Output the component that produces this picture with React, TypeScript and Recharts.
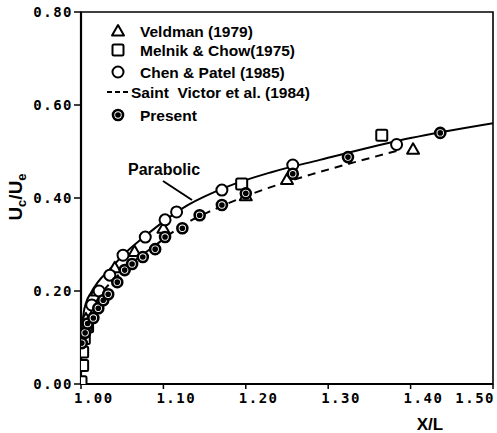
import React from 'react';
import { ComposedChart, Line, Scatter, XAxis, YAxis, ReferenceArea, Customized } from 'recharts';

const xTicks = [1.0, 1.1, 1.2, 1.3, 1.4, 1.5];
const xTickLabels = ['1.00', '1.10', '1.20', '1.30', '1.40', '1.50'];
const yTicks = [0, 0.2, 0.4, 0.6, 0.8];
const yTickLabels = ['0.00', '0.20', '0.40', '0.60', '0.80'];
const seriesNames = ['Veldman (1979)', 'Melnik & Chow(1975)', 'Chen & Patel (1985)', 'Saint  Victor et al. (1984)', 'Present'];
const curveLabel = 'Parabolic';
const xAxisTitle = 'X/L';

const toPts = (a: number[][]) => a.map(([x, y]) => ({ x, y }));

const parabolic = toPts([
  [1.0, 0.02], [1.001, 0.11], [1.003, 0.15], [1.006, 0.174], [1.012, 0.196], [1.02, 0.218],
  [1.034, 0.245], [1.055, 0.284], [1.079, 0.32], [1.103, 0.353], [1.13, 0.385], [1.177, 0.424],
  [1.23, 0.455], [1.29, 0.482], [1.4, 0.529], [1.5, 0.561],
]);
const saintVictor = toPts([
  [1.0, 0.06], [1.003, 0.1], [1.008, 0.135], [1.015, 0.165], [1.025, 0.195], [1.04, 0.225],
  [1.055, 0.25], [1.07, 0.272], [1.09, 0.298], [1.11, 0.325], [1.136, 0.354], [1.16, 0.374],
  [1.2, 0.404], [1.245, 0.432], [1.282, 0.452], [1.33, 0.476], [1.387, 0.503],
]);
const veldman = toPts([
  [1.006, 0.14], [1.019, 0.2], [1.041, 0.25], [1.065, 0.285], [1.1, 0.335], [1.2, 0.405],
  [1.25, 0.44], [1.403, 0.505],
]);
const melnik = toPts([
  [1.0, 0.005], [1.002, 0.04], [1.002, 0.069], [1.004, 0.098], [1.008, 0.123], [1.195, 0.43],
  [1.365, 0.535],
]);
const chenPatel = toPts([
  [1.007, 0.123], [1.013, 0.17], [1.022, 0.2], [1.035, 0.234], [1.051, 0.277], [1.078, 0.316],
  [1.102, 0.353], [1.116, 0.37], [1.171, 0.417], [1.257, 0.471], [1.383, 0.515],
]);
const present = toPts([
  [1.001, 0.088], [1.005, 0.11], [1.008, 0.13], [1.015, 0.142], [1.021, 0.163], [1.027, 0.18],
  [1.033, 0.193], [1.044, 0.219], [1.053, 0.245], [1.062, 0.258], [1.075, 0.273], [1.09, 0.29],
  [1.102, 0.316], [1.123, 0.335], [1.144, 0.363], [1.171, 0.385], [1.2, 0.41], [1.257, 0.452],
  [1.324, 0.488], [1.436, 0.54],
]);

const tickFont = { fontFamily: 'DejaVu Sans Mono', fontWeight: 700, fontSize: 14, letterSpacing: 1.5, fill: '#000' };
const textFont = { fontFamily: 'Liberation Sans', fontWeight: 700, fill: '#000' };

const Tri = ({ cx, cy }: any) => (
  <polygon points={`${cx},${cy - 6} ${cx - 6},${cy + 4.5} ${cx + 6},${cy + 4.5}`} fill="#fff" stroke="#000" strokeWidth={2} strokeLinejoin="round" />
);
const Sq = ({ cx, cy }: any) => (
  <rect x={cx - 5.5} y={cy - 5.5} width={11} height={11} rx={1.5} fill="#fff" stroke="#000" strokeWidth={2} />
);
const Circ = ({ cx, cy }: any) => <circle cx={cx} cy={cy} r={5.5} fill="#fff" stroke="#000" strokeWidth={2} />;
const Pres = ({ cx, cy }: any) => (
  <g>
    <circle cx={cx} cy={cy} r={5} fill="#fff" stroke="#000" strokeWidth={2.6} />
    <circle cx={cx} cy={cy} r={2.8} fill="#000" />
  </g>
);

const XTick = (props: any) => {
  const { x, y, index } = props;
  const last = index === xTicks.length - 1;
  return (
    <text x={last ? x + 2 : x - 7} y={y} dy={12} textAnchor={last ? 'end' : 'start'} {...tickFont}>
      {xTickLabels[index]}
    </text>
  );
};
const YTick = (props: any) => {
  const { x, y, index } = props;
  return (
    <text x={x + 1} y={y} dy={5} textAnchor="end" {...tickFont}>
      {yTickLabels[index]}
    </text>
  );
};

const Overlay = () => {
  const rows = [31, 50, 72, 92, 115];
  const sx = 118;
  const tx = 140;
  return (
    <g>
      <Tri cx={sx} cy={rows[0]} />
      <Sq cx={sx} cy={rows[1]} />
      <Circ cx={sx} cy={rows[2]} />
      <line x1={107} y1={rows[3]} x2={130} y2={rows[3]} stroke="#000" strokeWidth={1.8} strokeDasharray="5 3" />
      <Pres cx={sx} cy={rows[4]} />
      {seriesNames.map((n, i) => (
        <text key={n} x={i === 3 ? 131 : tx} y={rows[i] + 5.5} fontSize={15.5} {...textFont} style={{ whiteSpace: 'pre' }}>
          {n}
        </text>
      ))}
      <text x={128} y={175} fontSize={16} {...textFont}>{curveLabel}</text>
      <line x1={163} y1={181} x2={192} y2={200} stroke="#000" strokeWidth={2} />
      <text x={430} y={430} fontSize={17} textAnchor="middle" {...textFont}>{xAxisTitle}</text>
      <text transform="rotate(-90, 22, 197)" x={22} y={197} textAnchor="middle" fontSize={19} {...textFont}>
        U<tspan fontSize={13} dy={4}>c</tspan>
        <tspan dy={-4}>/U</tspan>
        <tspan fontSize={13} dy={4}>e</tspan>
      </text>
    </g>
  );
};

export default function App() {
  return (
    <div style={{ position: 'absolute', left: 0, top: 0, background: '#fff' }}>
      <ComposedChart width={497} height={433} margin={{ top: 12, right: 4, left: 0, bottom: 0 }}>
        <XAxis
          dataKey="x"
          type="number"
          domain={[1.0, 1.5]}
          ticks={xTicks}
          allowDataOverflow
          height={49}
          tick={<XTick />}
          tickSize={5}
          axisLine={{ stroke: '#000', strokeWidth: 2.2 }}
          tickLine={{ stroke: '#000', strokeWidth: 1.5 }}
          interval={0}
        />
        <YAxis
          dataKey="y"
          type="number"
          domain={[0, 0.8]}
          ticks={yTicks}
          allowDataOverflow
          width={81}
          tick={<YTick />}
          tickSize={7}
          axisLine={{ stroke: '#000', strokeWidth: 2.2 }}
          tickLine={{ stroke: '#000', strokeWidth: 1.5 }}
          interval={0}
        />
        <ReferenceArea x1={1.0} x2={1.5} y1={0} y2={0.8} fill="none" stroke="#000" strokeWidth={1.6} fillOpacity={0} />
        <Line data={parabolic} dataKey="y" type="monotone" stroke="#000" strokeWidth={2} dot={false} isAnimationActive={false} />
        <Line data={saintVictor} dataKey="y" type="monotone" stroke="#000" strokeWidth={2} strokeDasharray="8 6" dot={false} isAnimationActive={false} />
        <Scatter data={melnik} dataKey="y" shape={<Sq />} isAnimationActive={false} />
        <Scatter data={veldman} dataKey="y" shape={<Tri />} isAnimationActive={false} />
        <Scatter data={chenPatel} dataKey="y" shape={<Circ />} isAnimationActive={false} />
        <Scatter data={present} dataKey="y" shape={<Pres />} isAnimationActive={false} />
        <Customized component={<Overlay />} />
      </ComposedChart>
    </div>
  );
}
